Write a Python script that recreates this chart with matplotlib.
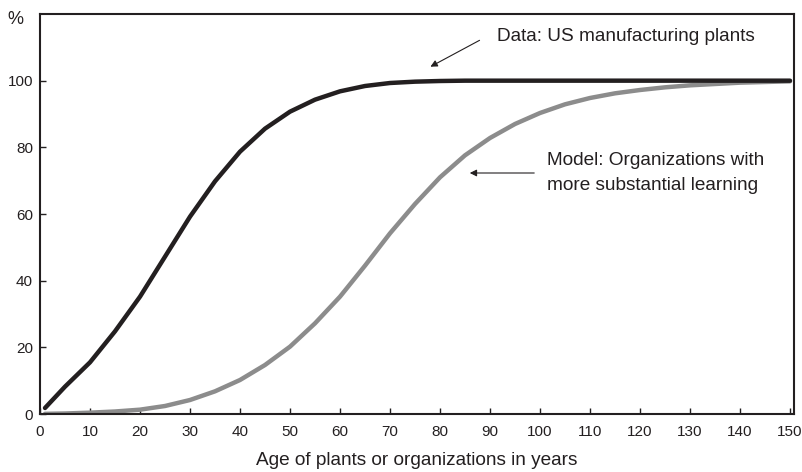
import matplotlib
matplotlib.use("Agg")
import matplotlib.pyplot as plt

plt.rcParams['font.family'] = ['Liberation Sans', 'DejaVu Sans']

# Data: US manufacturing plants (black)
data_age = [1, 5, 10, 15, 20, 25, 30, 35, 40, 45, 50, 55, 60, 65, 70, 75, 80, 85, 90, 100, 120, 150]
data_pct = [1.8, 8.2, 15.5, 24.8, 35.2, 47.2, 59.2, 69.8, 78.7, 85.6, 90.7, 94.3, 96.8, 98.4, 99.3, 99.7, 99.9, 100, 100, 100, 100, 100]

# Model: organizations with more substantial learning (gray)
model_age = [1, 5, 10, 15, 20, 25, 30, 35, 40, 45, 50, 55, 60, 65, 70, 75, 80, 85, 90, 95, 100,
             105, 110, 115, 120, 125, 130, 135, 140, 145, 150]
model_pct = [0.05, 0.15, 0.4, 0.75, 1.3, 2.4, 4.2, 6.8, 10.2, 14.7, 20.2, 27.2, 35.2, 44.5, 54.2,
             63.0, 71.0, 77.6, 82.8, 87.0, 90.3, 92.9, 94.8, 96.2, 97.2, 98.0, 98.6, 99.0, 99.4, 99.6, 99.8]

x_ticks = list(range(0, 151, 10))
y_ticks = [0, 20, 40, 60, 80, 100]

fig = plt.figure(figsize=(8.03, 4.72), dpi=100)
ax = fig.add_axes([40/803, 58/472, 754/803, 400/472])

ax.plot(model_age, model_pct, color='#8c8c8c', lw=3.2, solid_capstyle='round',
        solid_joinstyle='round', zorder=2)
ax.plot(data_age, data_pct, color='#231f20', lw=3.2, solid_capstyle='round',
        solid_joinstyle='round', zorder=3)

ax.set_xlim(0, 150.8)
ax.set_ylim(0, 120)
ax.set_xticks(x_ticks)
ax.set_yticks(y_ticks)
ax.tick_params(direction='in', length=4, width=1, colors='#231f20', labelsize=11, pad=5)
ax.tick_params(axis='x', pad=8)
for s in ax.spines.values():
    s.set_linewidth(1.5)
    s.set_color('#231f20')

ax.set_xlabel('Age of plants or organizations in years', fontsize=13.7, color='#231f20', labelpad=9)
fig.text(15/803, 1 - 20/472, '%', fontsize=13, color='#231f20', ha='center', va='center')

ax.annotate('', xy=(77.6, 103.8), xytext=(88.4, 112.5),
            arrowprops=dict(arrowstyle='-|>', color='#231f20', lw=0.8, mutation_scale=10))
ax.text(91.4, 113.3, 'Data: US manufacturing plants', fontsize=13.7, color='#231f20',
        ha='left', va='center')

ax.annotate('', xy=(85.4, 72.3), xytext=(99.4, 72.3),
            arrowprops=dict(arrowstyle='-|>', color='#231f20', lw=0.8, mutation_scale=10))
ax.text(101.4, 72.3, 'Model: Organizations with\nmore substantial learning', fontsize=13.7,
        color='#231f20', ha='left', va='center', linespacing=1.55)

fig.savefig('out.png', dpi=100)
